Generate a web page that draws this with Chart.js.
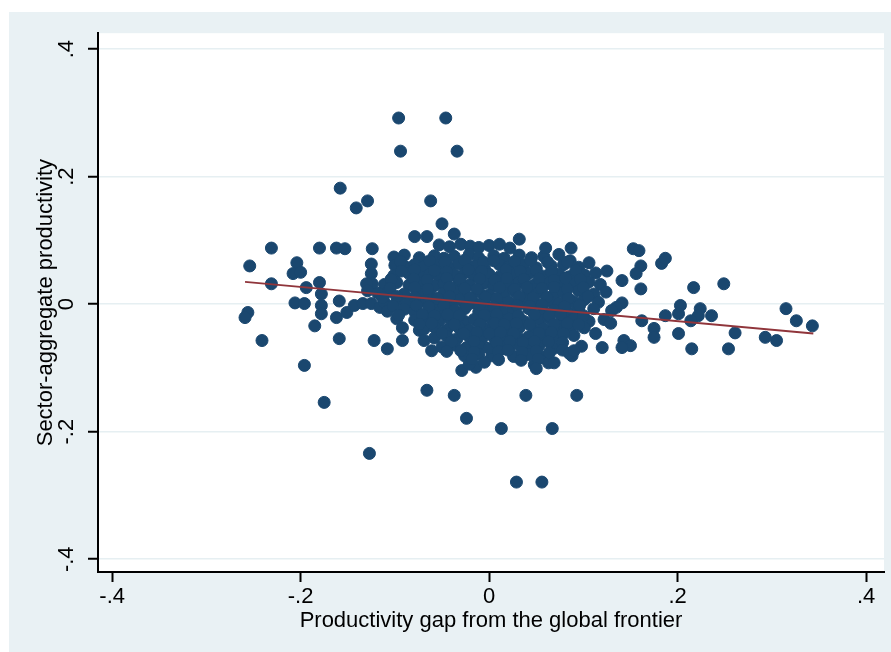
<!DOCTYPE html>
<html>
<head>
<meta charset="utf-8">
<script src="https://cdn.jsdelivr.net/npm/chart.js@4.4.1/dist/chart.umd.min.js"></script>
<style>
  html, body { margin: 0; padding: 0; background: #fff; }
  #wrap { position: absolute; left: 9px; top: 12px; width: 882px; height: 640px; background: #e9f1f4; }
</style>
</head>
<body>
<div id="wrap"><canvas id="chart" width="882" height="640"></canvas></div>
<script>
// ticks
const xTickValues = [-0.4, -0.2, 0, 0.2, 0.4];
const xTickLabels = ["-.4", "-.2", "0", ".2", ".4"];
const yTickValues = [-0.4, -0.2, 0, 0.2, 0.4];
const yTickLabels = ["-.4", "-.2", "0", ".2", ".4"];

// scatter points [gap, productivity]
const outlierPoints = [
  [-0.096, 0.292], [-0.046, 0.292], [-0.094, 0.240], [-0.034, 0.240],
  [-0.158, 0.182], [-0.141, 0.151], [-0.129, 0.162], [-0.062, 0.162], [-0.050, 0.126],
  [-0.079, 0.106], [-0.066, 0.106], [-0.037, 0.110], [0.032, 0.102],
  [-0.175, -0.154], [-0.127, -0.234], [-0.066, -0.135], [-0.037, -0.143], [-0.024, -0.179],
  [0.013, -0.195], [0.029, -0.279], [0.056, -0.279], [0.039, -0.143], [0.067, -0.195], [0.093, -0.143],
  [-0.029, -0.104], [-0.014, -0.099], [0.003, -0.081]
];

const leftPoints = [
  [-0.231, 0.088], [-0.180, 0.088], [-0.162, 0.088], [-0.153, 0.087], [-0.124, 0.087],
  [-0.254, 0.060], [-0.204, 0.065], [-0.208, 0.048], [-0.200, 0.050],
  [-0.231, 0.032], [-0.194, 0.026], [-0.180, 0.034], [-0.178, 0.016],
  [-0.206, 0.002], [-0.196, 0.001], [-0.178, -0.002], [-0.178, -0.015],
  [-0.159, 0.005], [-0.162, -0.021], [-0.151, -0.013], [-0.143, -0.002], [-0.134, 0.001], [-0.125, 0.001],
  [-0.256, -0.013], [-0.259, -0.021],
  [-0.185, -0.034], [-0.241, -0.057], [-0.159, -0.054], [-0.196, -0.096],
  [-0.122, -0.057], [-0.108, -0.070], [-0.092, -0.057],
  [-0.125, 0.048], [-0.125, 0.063], [-0.124, 0.032], [-0.130, 0.032], [-0.129, 0.021], [-0.116, -0.005],
  [-0.098, -0.023], [-0.092, -0.037], [-0.074, -0.041], [-0.069, -0.057], [-0.061, -0.073]
];

const corePoints = [
  [-0.053, 0.093], [-0.042, 0.090], [-0.030, 0.094], [-0.020, 0.091], [-0.011, 0.089], [0.000, 0.092], [0.011, 0.094], [0.022, 0.088],
  [-0.101, 0.074], [-0.090, 0.077], [-0.074, 0.073], [-0.058, 0.076], [-0.048, 0.072], [-0.037, 0.075], [-0.021, 0.078], [-0.011, 0.073], [0.005, 0.076], [0.016, 0.072], [0.032, 0.077], [0.045, 0.073], [0.058, 0.075], [0.074, 0.078],
  [-0.100, 0.061], [-0.088, 0.058], [-0.079, 0.062], [-0.069, 0.059], [-0.055, 0.061], [-0.042, 0.058], [-0.032, 0.063], [-0.016, 0.060], [-0.005, 0.057], [0.011, 0.062], [0.021, 0.059], [0.037, 0.061], [0.050, 0.057], [0.066, 0.060], [0.079, 0.062], [0.095, 0.058],
  [-0.101, 0.045], [-0.085, 0.048], [-0.074, 0.044], [-0.063, 0.047], [-0.053, 0.043], [-0.037, 0.046], [-0.026, 0.049], [-0.016, 0.044], [0.000, 0.047], [0.011, 0.043], [0.026, 0.046], [0.042, 0.048], [0.058, 0.044], [0.074, 0.047], [0.085, 0.043], [0.101, 0.046], [0.113, 0.049],
  [-0.111, 0.031], [-0.098, 0.034], [-0.085, 0.030], [-0.072, 0.033], [-0.058, 0.029], [-0.048, 0.032], [-0.032, 0.035], [-0.021, 0.030], [-0.005, 0.033], [0.005, 0.029], [0.021, 0.032], [0.032, 0.035], [0.048, 0.030], [0.063, 0.033], [0.074, 0.029], [0.090, 0.032], [0.106, 0.035], [0.118, 0.031],
  [-0.118, 0.017], [-0.106, 0.020], [-0.090, 0.016], [-0.074, 0.019], [-0.063, 0.015], [-0.048, 0.018], [-0.037, 0.021], [-0.026, 0.016], [-0.011, 0.019], [0.000, 0.015], [0.016, 0.018], [0.026, 0.021], [0.042, 0.016], [0.053, 0.019], [0.069, 0.015], [0.079, 0.018], [0.095, 0.021], [0.111, 0.016], [0.124, 0.019],
  [-0.111, 0.003], [-0.097, 0.006], [-0.085, 0.002], [-0.069, 0.005], [-0.058, 0.001], [-0.042, 0.004], [-0.032, 0.007], [-0.016, 0.002], [-0.005, 0.005], [0.011, 0.001], [0.021, 0.004], [0.037, 0.007], [0.048, 0.002], [0.063, 0.005], [0.074, 0.001], [0.090, 0.004], [0.101, 0.007], [0.116, 0.003],
  [-0.108, -0.011], [-0.090, -0.008], [-0.079, -0.012], [-0.063, -0.009], [-0.053, -0.013], [-0.037, -0.010], [-0.026, -0.007], [-0.011, -0.012], [0.000, -0.009], [0.016, -0.013], [0.026, -0.010], [0.042, -0.007], [0.058, -0.012], [0.069, -0.009], [0.085, -0.013], [0.095, -0.010], [0.111, -0.007],
  [-0.079, -0.025], [-0.069, -0.022], [-0.053, -0.026], [-0.042, -0.023], [-0.026, -0.027], [-0.016, -0.024], [0.000, -0.021], [0.011, -0.026], [0.021, -0.023], [0.037, -0.027], [0.053, -0.024], [0.063, -0.021], [0.079, -0.026], [0.090, -0.023], [0.106, -0.027], [0.122, -0.024],
  [-0.069, -0.039], [-0.058, -0.036], [-0.045, -0.040], [-0.032, -0.037], [-0.021, -0.041], [-0.005, -0.038], [0.005, -0.035], [0.021, -0.040], [0.032, -0.037], [0.048, -0.041], [0.058, -0.038], [0.074, -0.035], [0.085, -0.040], [0.101, -0.037],
  [-0.058, -0.053], [-0.045, -0.050], [-0.034, -0.054], [-0.021, -0.051], [-0.008, -0.055], [0.005, -0.052], [0.016, -0.049], [0.032, -0.054], [0.042, -0.051], [0.058, -0.055], [0.069, -0.052], [0.090, -0.049],
  [-0.050, -0.067], [-0.037, -0.064], [-0.024, -0.068], [-0.011, -0.065], [0.000, -0.069], [0.016, -0.066], [0.026, -0.063], [0.042, -0.068], [0.053, -0.065], [0.069, -0.069], [0.098, -0.066],
  [-0.026, -0.081], [-0.011, -0.078], [0.026, -0.082], [0.042, -0.079], [0.058, -0.083],
  [-0.021, -0.094], [-0.005, -0.091], [0.048, -0.095], [0.063, -0.092]
];

// extra points packed between the rows of the dense centre
const coreFill = [
  [-0.094, 0.067], [-0.063, 0.068], [-0.047, 0.066], [-0.026, 0.069], [-0.006, 0.066], [0.005, 0.068], [0.027, 0.067], [0.044, 0.069], [0.062, 0.066], [0.086, 0.068],
  [-0.093, 0.052], [-0.079, 0.054], [-0.058, 0.053], [-0.045, 0.051], [-0.022, 0.054], [-0.008, 0.052], [0.018, 0.054], [0.033, 0.052], [0.050, 0.053], [0.066, 0.051], [0.092, 0.053],
  [-0.104, 0.039], [-0.080, 0.040], [-0.066, 0.038], [-0.045, 0.041], [-0.031, 0.039], [-0.010, 0.040], [0.006, 0.038], [0.019, 0.041], [0.037, 0.039], [0.053, 0.040], [0.069, 0.038], [0.081, 0.041], [0.097, 0.039],
  [-0.105, 0.025], [-0.079, 0.026], [-0.065, 0.024], [-0.042, 0.027], [-0.026, 0.025], [-0.013, 0.024], [0.011, 0.026], [0.027, 0.024], [0.040, 0.026], [0.056, 0.025], [0.069, 0.027], [0.083, 0.024], [0.100, 0.026],
  [-0.113, 0.010], [-0.098, 0.012], [-0.079, 0.011], [-0.055, 0.009], [-0.042, 0.012], [-0.020, 0.010], [-0.004, 0.011], [0.008, 0.009], [0.032, 0.012], [0.047, 0.010], [0.061, 0.011], [0.084, 0.009], [0.105, 0.012],
  [-0.102, -0.003], [-0.077, -0.002], [-0.064, -0.004], [-0.048, -0.002], [-0.024, -0.003], [-0.010, -0.001], [0.005, -0.004], [0.030, -0.002], [0.043, -0.003], [0.056, -0.001], [0.080, -0.004], [0.096, -0.002],
  [-0.096, -0.017], [-0.071, -0.016], [-0.058, -0.018], [-0.044, -0.016], [-0.032, -0.018], [-0.005, -0.017], [0.008, -0.016], [0.031, -0.018], [0.048, -0.016], [0.064, -0.018], [0.076, -0.016], [0.100, -0.018],
  [-0.074, -0.031], [-0.061, -0.030], [-0.037, -0.032], [-0.010, -0.031], [0.006, -0.030], [0.016, -0.032], [0.029, -0.030], [0.043, -0.032], [0.069, -0.031], [0.083, -0.030], [0.095, -0.032],
  [-0.050, -0.045], [-0.027, -0.046], [-0.013, -0.044], [0.000, -0.046], [0.012, -0.044], [0.026, -0.046], [0.053, -0.045], [0.066, -0.044], [0.079, -0.046],
  [-0.040, -0.059], [-0.016, -0.058], [0.008, -0.060], [0.022, -0.058], [0.036, -0.060], [0.048, -0.058], [0.063, -0.059], [0.078, -0.060],
  [-0.045, -0.074], [-0.030, -0.073], [-0.016, -0.075], [0.010, -0.074], [0.020, -0.072], [0.035, -0.075], [0.050, -0.073], [0.064, -0.076], [0.078, -0.072],
  [-0.018, -0.086], [0.010, -0.087], [0.034, -0.088], [0.052, -0.086]
];

const rightPoints = [
  [0.050, -0.101], [0.069, -0.092], [0.088, -0.081],
  [0.060, 0.088], [0.087, 0.088], [0.083, 0.066], [0.106, 0.065], [0.125, 0.052],
  [0.153, 0.087], [0.159, 0.084], [0.183, 0.064], [0.187, 0.072],
  [0.161, 0.060], [0.156, 0.048], [0.161, 0.024], [0.141, 0.037],
  [0.217, 0.026], [0.249, 0.032],
  [0.141, 0.002], [0.135, -0.005], [0.130, -0.010],
  [0.203, -0.002], [0.201, -0.015], [0.224, -0.007], [0.222, -0.018], [0.236, -0.018], [0.187, -0.018],
  [0.162, -0.026], [0.175, -0.038], [0.175, -0.052], [0.201, -0.046], [0.214, -0.026],
  [0.143, -0.057], [0.150, -0.065], [0.141, -0.068],
  [0.129, -0.030], [0.113, -0.046], [0.120, -0.068], [0.085, -0.077], [0.090, -0.073],
  [0.215, -0.070], [0.261, -0.045], [0.254, -0.070], [0.293, -0.052], [0.305, -0.057],
  [0.315, -0.007], [0.326, -0.026], [0.343, -0.034]
];

// fitted line end points
const fitX = [-0.259, 0.344];
const fitY = [0.035, -0.046];

const allPoints = outlierPoints.concat(leftPoints, corePoints, coreFill, rightPoints)
  .map(p => ({ x: p[0], y: p[1] }));
const fitLine = fitX.map((x, i) => ({ x: x, y: fitY[i] }));

const FONT = "'Liberation Sans', Arial, sans-serif";

const plotBg = {
  id: "plotBg",
  beforeDraw(chart) {
    const a = chart.chartArea;
    const ctx = chart.ctx;
    ctx.save();
    ctx.fillStyle = "#ffffff";
    ctx.fillRect(a.left, a.top, a.right - a.left, a.bottom - a.top);
    ctx.restore();
  }
};

new Chart(document.getElementById("chart").getContext("2d"), {
  type: "scatter",
  data: {
    datasets: [
      {
        type: "line",
        data: fitLine,
        borderColor: "#90353b",
        borderWidth: 2,
        pointRadius: 0,
        fill: false,
        order: 0
      },
      {
        data: allPoints,
        backgroundColor: "#1a476f",
        borderColor: "#1a476f",
        borderWidth: 1,
        pointRadius: 6,
        order: 1
      }
    ]
  },
  options: {
    responsive: false,
    animation: false,
    layout: { padding: { top: 20, right: 5, left: 0, bottom: 0 } },
    plugins: { legend: { display: false }, tooltip: { enabled: false } },
    scales: {
      x: {
        type: "linear",
        min: -0.415,
        max: 0.419,
        afterBuildTicks: s => { s.ticks = xTickValues.map(v => ({ value: v })); },
        afterFit: s => { s.height = 80; },
        ticks: {
          callback: (v, i) => xTickLabels[i],
          font: { family: FONT, size: 22 },
          color: "#000",
          padding: 2,
          maxRotation: 0
        },
        grid: { drawOnChartArea: false, tickLength: 10, tickColor: "#000", tickWidth: 2 },
        border: { color: "#000", width: 2 },
        title: {
          display: true,
          text: "Productivity gap from the global frontier",
          font: { family: FONT, size: 22 },
          color: "#000",
          padding: { top: 0, bottom: 18 }
        }
      },
      y: {
        type: "linear",
        min: -0.42,
        max: 0.425,
        afterBuildTicks: s => { s.ticks = yTickValues.map(v => ({ value: v })); },
        afterFit: s => { s.width = 89; },
        ticks: {
          callback: (v, i) => yTickLabels[i],
          font: { family: FONT, size: 22 },
          color: "#000",
          minRotation: 90,
          maxRotation: 90,
          crossAlign: "center",
          padding: 8
        },
        grid: { color: "#e6eff2", lineWidth: 1.5, tickLength: 10, tickColor: "#000", tickWidth: 2 },
        border: { color: "#000", width: 2 },
        title: {
          display: true,
          text: "Sector-aggregate productivity",
          font: { family: FONT, size: 22 },
          color: "#000",
          padding: { top: 24, bottom: 0 }
        }
      }
    }
  },
  plugins: [plotBg]
});
</script>
</body>
</html>
